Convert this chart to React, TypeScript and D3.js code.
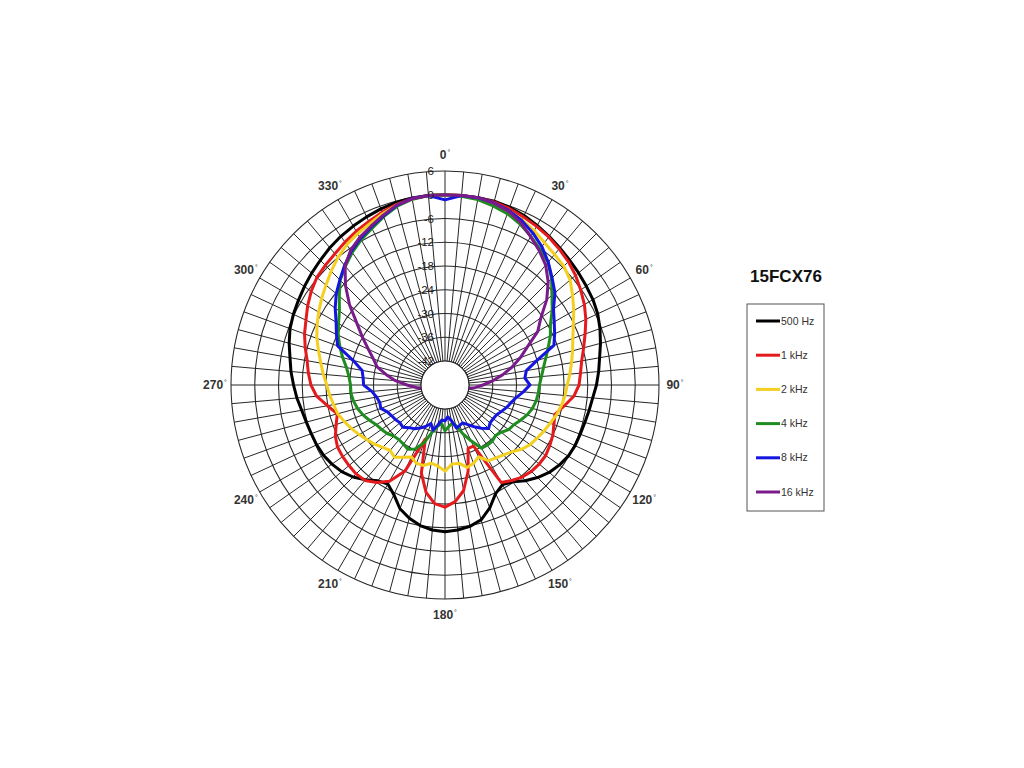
import React from 'react';
import * as d3 from 'd3';

// ---- data ----
const ANGLES: number[] = d3.range(0, 360, 5);
const RING_VALUES = [6, 0, -6, -12, -18, -24, -30, -36, -42];
const RING_LABELS = ['6', '0', '-6', '-12', '-18', '-24', '-30', '-36', '-42'];
const ANGLE_LABELS = [0, 30, 60, 90, 120, 150, 180, 210, 240, 270, 300, 330];
const TITLE = '15FCX76';
const SERIES_NAMES = ['500 Hz', '1 kHz', '2 kHz', '4 kHz', '8 kHz', '16 kHz'];
const SERIES_COLORS = ['#000000', '#e41a1c', '#f5cf1f', '#1f8c1f', '#1515e0', '#7a1b8c'];

const HZ500 = [
  0, 0, 0, 0, -0.3, -0.8, -1.5, -2.2, -2.9, -3.5, -4.0, -4.5,
  -4.9, -5.5, -6.4, -7.4, -8.4, -9.1, -9.8, -10.6, -11.1, -11.5, -11.7, -11.8,
  -12.1, -12.8, -13.7, -15.0, -16.5, -18.2, -19.0, -17.8, -15.0, -12.8, -11.8, -11.3,
  -11.0, -11.3, -12.0, -13.2, -14.8, -17.5, -19.2, -18.5, -16.8, -15.2, -14.0, -13.2,
  -12.6, -12.3, -12.1, -11.8, -11.3, -10.5, -9.8, -9.0, -8.3, -7.3, -6.4, -5.8,
  -5.3, -4.7, -4.1, -3.5, -2.8, -2.2, -1.7, -1.2, -0.7, -0.3, -0.1, 0,
];
const KHZ1 = [
  0, 0, 0, -0.2, -0.6, -1.2, -1.8, -2.4, -3.2, -4.0, -5.0, -6.2,
  -7.4, -8.8, -10.4, -11.8, -13.0, -13.7, -14.2, -15.4, -17.5, -19.3, -18.8, -18.0,
  -17.5, -17.0, -17.0, -17.2, -17.7, -18.6, -19.6, -31.0, -31.0, -25.5, -21.0, -18.5,
  -17.2, -18.0, -20.5, -25.0, -33.5, -24.0, -20.0, -18.0, -16.6, -16.3, -16.4, -16.5,
  -16.7, -17.5, -18.8, -19.9, -17.9, -15.5, -14.2, -13.4, -12.7, -11.5, -10.3, -9.3,
  -8.0, -6.8, -5.8, -5.3, -4.8, -4.0, -3.2, -2.5, -1.6, -0.8, -0.2, 0,
];
const KHZ2 = [
  0, 0, -0.2, -0.6, -1.2, -2.0, -3.0, -4.2, -5.0, -5.6, -6.8, -8.7,
  -10.5, -12.3, -13.7, -14.7, -15.6, -16.4, -17.2, -17.6, -18.2, -18.9, -19.8, -20.5,
  -21.2, -21.8, -22.8, -24.2, -25.0, -25.6, -26.0, -28.0, -27.0, -26.5, -28.0, -28.0,
  -26.3, -27.5, -28.0, -27.0, -27.0, -28.0, -27.0, -25.8, -26.5, -25.8, -24.8, -24.0,
  -23.0, -22.0, -21.0, -20.0, -19.5, -18.8, -18.2, -17.2, -16.2, -15.0, -13.6, -12.4,
  -11.2, -10.0, -8.8, -7.4, -6.0, -4.8, -3.9, -3.1, -2.0, -1.0, -0.4, 0,
];
const KHZ4 = [
  0, -0.2, -0.5, -1.2, -2.0, -3.2, -4.7, -6.2, -7.6, -10.0, -12.8, -15.0,
  -17.3, -18.7, -20.3, -21.7, -22.8, -23.6, -24.2, -24.4, -24.7, -25.2, -26.0, -27.0,
  -28.0, -28.4, -29.5, -30.0, -29.5, -29.5, -29.6, -32.5, -35.0, -37.5, -38.2, -37.5,
  -36.5, -38.3, -37.5, -35.8, -32.5, -30.2, -29.3, -29.8, -30.0, -29.8, -29.0, -28.5,
  -28.0, -27.0, -26.0, -25.2, -24.6, -24.2, -24.2, -23.7, -22.8, -21.3, -19.8, -18.3,
  -17.0, -15.5, -13.2, -10.6, -8.9, -7.2, -5.7, -4.4, -2.8, -1.3, -0.4, 0,
];
const KHZ8 = [
  -1.3, 0, 0, -0.4, -1.1, -2.2, -3.7, -5.4, -7.5, -9.8, -11.8, -14.6,
  -16.2, -17.5, -18.8, -24.0, -27.2, -27.8, -26.6, -28.2, -29.8, -30.8, -31.5, -32.3,
  -33.0, -33.2, -33.2, -32.5, -33.8, -35.2, -36.5, -37.5, -37.2, -36.8, -39.0, -40.0,
  -39.0, -39.2, -37.8, -36.3, -37.7, -36.5, -35.5, -34.6, -34.0, -33.0, -33.2, -32.8,
  -32.5, -32.0, -30.8, -31.0, -30.5, -29.5, -27.5, -27.3, -26.8, -24.0, -19.2, -17.8,
  -16.3, -14.2, -12.2, -10.5, -8.6, -6.8, -5.3, -4.0, -2.6, -1.1, -0.2, 0,
];
const KHZ16 = [
  0, 0, 0, -0.5, -1.3, -2.8, -4.8, -6.6, -8.5, -11.2, -14.5, -18.5,
  -21.0, -25.0, -27.8, -30.5, -33.3, -36.0, -38.5, -40.5, -42.5, -46, -46, -46,
  -46, -46, -46, -46, -46, -46, -46, -46, -46, -46, -46, -46,
  -46, -46, -46, -46, -46, -46, -46, -46, -46, -46, -46, -46,
  -46, -46, -46, -46, -42.5, -40.8, -38.5, -35.5, -33.0, -30.3, -28.8, -26.7,
  -24.0, -20.9, -16.6, -12.5, -8.8, -6.5, -5.0, -3.8, -2.4, -1.0, -0.3, 0,
];
const SERIES_VALUES = [HZ500, KHZ1, KHZ2, KHZ4, KHZ8, KHZ16];

// ---- layout ----
const W = 1024;
const H = 768;
const CX = 445;
const CY = 385;
const R_IN = 24;
const R_OUT = 214;
const LABEL_R = 230;
const FONT = '"Liberation Sans", Arial, Helvetica, sans-serif';

export default function App() {
  const r = d3.scaleLinear().domain([-42, 6]).range([R_IN, R_OUT]);
  const rad = (deg: number) => (deg * Math.PI) / 180;
  const spokes = d3.range(0, 360, 5);

  const line = d3
    .lineRadial<number>()
    .angle((_d, i) => rad(ANGLES[i]))
    .radius((d) => r(d))
    .curve(d3.curveLinearClosed);

  const legendX = 747;
  const legendY = 304;
  const legendW = 77;
  const legendH = 207;
  const rowY = d3.scaleLinear().domain([0, 5]).range([321, 492]);

  return (
    <svg
      width={W}
      height={H}
      style={{ position: 'absolute', left: 0, top: 0, display: 'block', background: '#fff' }}
      fontFamily={FONT}
    >
      <rect x={0} y={0} width={W} height={H} fill="#fff" />
      <g transform={`translate(${CX},${CY})`}>
        {/* spokes */}
        {spokes.map((a) => (
          <line
            key={'s' + a}
            x1={r(-42) * Math.sin(rad(a))}
            y1={-r(-42) * Math.cos(rad(a))}
            x2={r(6) * Math.sin(rad(a))}
            y2={-r(6) * Math.cos(rad(a))}
            stroke="#262626"
            strokeWidth={1}
          />
        ))}
        {/* rings */}
        {RING_VALUES.map((v) => (
          <circle key={'c' + v} r={r(v)} fill="none" stroke="#262626" strokeWidth={1.05} />
        ))}
        {/* curves */}
        {SERIES_VALUES.map((vals, i) => (
          <path
            key={'p' + i}
            d={line(vals) || ''}
            fill="none"
            stroke={SERIES_COLORS[i]}
            strokeWidth={3}
            strokeLinejoin="round"
          />
        ))}
        {/* hole */}
        <circle r={r(-42)} fill="#fff" stroke="#262626" strokeWidth={1.1} />
        {/* ring labels */}
        {RING_VALUES.map((v, i) => (
          <text
            key={'rl' + v}
            x={-11}
            y={-r(v)}
            dy="0.35em"
            textAnchor="end"
            fontSize={11.5}
            fill="#222"
          >
            {RING_LABELS[i]}
          </text>
        ))}
        {/* angle labels */}
        {ANGLE_LABELS.map((a) => (
          <text
            key={'al' + a}
            x={LABEL_R * Math.sin(rad(a))}
            y={-LABEL_R * Math.cos(rad(a))}
            dy="0.35em"
            textAnchor="middle"
            fontSize={12}
            fontWeight="bold"
            fill="#333"
          >
            {String(a)}
            <tspan fontSize={7} dy={-4} dx={1} fontWeight="normal">°</tspan>
          </text>
        ))}
      </g>

      {/* title */}
      <text x={786} y={282} textAnchor="middle" fontSize={17} fontWeight="bold" fill="#111">
        {TITLE}
      </text>

      {/* legend */}
      <rect x={legendX} y={legendY} width={legendW} height={legendH} fill="#fff" stroke="#555" strokeWidth={1} />
      {SERIES_NAMES.map((name, i) => (
        <g key={'lg' + i}>
          <line x1={756} x2={780} y1={rowY(i)} y2={rowY(i)} stroke={SERIES_COLORS[i]} strokeWidth={3} />
          <text x={781} y={rowY(i)} dy="0.35em" fontSize={10.5} fill="#333">
            {name}
          </text>
        </g>
      ))}
    </svg>
  );
}
